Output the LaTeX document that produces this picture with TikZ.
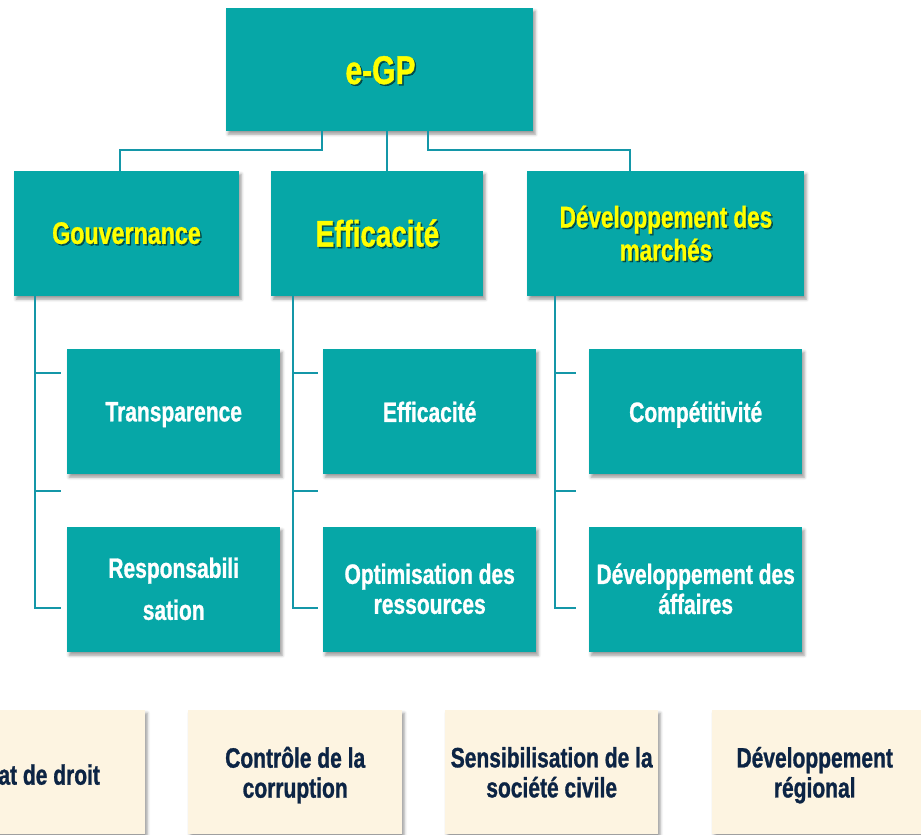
\documentclass[tikz,border=0pt]{standalone}
\usepackage{fontspec}
\newfontfamily\cf{Liberation Sans}[FakeStretch=0.75, BoldFeatures={FakeBold=1}]
\usetikzlibrary{shadows.blur}
\definecolor{teal1}{HTML}{06A7A7}
\definecolor{conncol}{HTML}{1497A8}
\definecolor{cream}{HTML}{FDF4E1}
\definecolor{navy}{HTML}{0C2444}
\definecolor{ylw}{HTML}{FFFF00}
\begin{document}
\begin{tikzpicture}[x=1pt,y=-1pt,
  basebox/.style={rectangle, draw=none, inner sep=0pt, anchor=north west,
    blur shadow={shadow xshift=2pt, shadow yshift=-3pt, shadow blur radius=3pt, shadow opacity=40}},
  tealbox/.style={basebox, fill=teal1},
  creambox/.style={basebox, fill=cream},
  conn/.style={draw=conncol, line width=2.8pt},
  ytxt/.style={font=\cf\bfseries, text=ylw, align=center, text depth=0pt, inner sep=0pt},
  ysh/.style={font=\cf\bfseries, text=black, opacity=0.5, align=center, text depth=0pt, inner sep=0pt},
  wtxt/.style={font=\cf\bfseries\fontsize{28}{30}\selectfont, text=white, align=center, text depth=0pt, inner sep=0pt},
  ntxt/.style={font=\cf\bfseries\fontsize{28}{30}\selectfont, text=navy, align=center, text depth=0pt, inner sep=0pt}
]
\useasboundingbox (0,0) rectangle (921,835);
\clip (0,0) rectangle (921,835);

% connector anchor coordinates
\coordinate (a1) at (322,150);
\coordinate (a2) at (120,150);
\coordinate (b1) at (387,150);
\coordinate (c1) at (428,150);
\coordinate (c2) at (630,150);
\coordinate (g1) at (35,608);
\coordinate (g2) at (61,373);
\coordinate (g3) at (61,491);
\coordinate (g4) at (61,608);
\coordinate (e1) at (293,608);
\coordinate (e2) at (318,373);
\coordinate (e3) at (318,491);
\coordinate (e4) at (318,608);
\coordinate (d1) at (555,608);
\coordinate (d2) at (576,373);
\coordinate (d3) at (576,491);
\coordinate (d4) at (576,608);

% boxes
\node[tealbox, minimum width=307pt, minimum height=123pt] (egp) at (226,8) {};
\node[tealbox, minimum width=225pt, minimum height=125pt] (gouv) at (14,171) {};
\node[tealbox, minimum width=212pt, minimum height=125pt] (eff) at (271,171) {};
\node[tealbox, minimum width=277pt, minimum height=125pt] (dev) at (527,171) {};

\node[tealbox, minimum width=213pt, minimum height=125pt] (tra) at (67,349) {};
\node[tealbox, minimum width=213pt, minimum height=125pt] (res) at (67,527) {};
\node[tealbox, minimum width=213pt, minimum height=125pt] (eff2) at (323,349) {};
\node[tealbox, minimum width=213pt, minimum height=125pt] (opt) at (323,527) {};
\node[tealbox, minimum width=213pt, minimum height=125pt] (comp) at (589,349) {};
\node[tealbox, minimum width=213pt, minimum height=125pt] (daff) at (589,527) {};

\node[creambox, minimum width=213pt, minimum height=124pt] (etat) at (-68,710) {};
\node[creambox, minimum width=214pt, minimum height=124pt] (corr) at (188,710) {};
\node[creambox, minimum width=213pt, minimum height=124pt] (soc) at (445,710) {};
\node[creambox, minimum width=213pt, minimum height=124pt] (reg) at (712,710) {};

% connectors
\draw[conn] (egp.south -| a1) -- (a1) -- (a2) -- (a2 |- gouv.north);
\draw[conn] (egp.south -| b1) -- (b1 |- eff.north);
\draw[conn] (egp.south -| c1) -- (c1) -- (c2) -- (c2 |- dev.north);

\draw[conn] (gouv.south -| g1) -- (g1) -- (g4);
\draw[conn] (g1 |- g2) -- (g2);
\draw[conn] (g1 |- g3) -- (g3);
\draw[conn] (eff.south -| e1) -- (e1) -- (e4);
\draw[conn] (e1 |- e2) -- (e2);
\draw[conn] (e1 |- e3) -- (e3);
\draw[conn] (dev.south -| d1) -- (d1) -- (d4);
\draw[conn] (d1 |- d2) -- (d2);
\draw[conn] (d1 |- d3) -- (d3);

% yellow titles with shadow
\node[ysh, font=\cf\bfseries\fontsize{40}{44}\selectfont] (egpS) at (382,71.5) {e-GP};
\node[ytxt, font=\cf\bfseries\fontsize{40}{44}\selectfont] (egpT) at (380.5,70) {e-GP};
\node[ysh, font=\cf\bfseries\fontsize{31}{33}\selectfont] (gouvS) at (128,234.5) {Gouvernance};
\node[ytxt, font=\cf\bfseries\fontsize{31}{33}\selectfont] (gouvT) at (126.5,233) {Gouvernance};
\node[ysh, font=\cf\bfseries\fontsize{37}{39}\selectfont] (effS) at (379,234.5) {Efficacité};
\node[ytxt, font=\cf\bfseries\fontsize{37}{39}\selectfont] (effT) at (377.5,233) {Efficacité};
\node[ysh, font=\cf\bfseries\fontsize{30}{33}\selectfont] (devS) at (667.5,234.5) {Développement des\\marchés};
\node[ytxt, font=\cf\bfseries\fontsize{30}{33}\selectfont] (devT) at (666,233) {Développement des\\marchés};

% white texts
\node[wtxt] (traT) at (tra.center) {Transparence};
\node[wtxt] (resT) at ([yshift=1pt]res.center) {Responsabili\\[12pt]sation};
\node[wtxt] (eff2T) at (eff2.center) {Efficacité};
\node[wtxt] (optT) at ([yshift=1pt]opt.center) {Optimisation des\\ressources};
\node[wtxt] (compT) at (comp.center) {Compétitivité};
\node[wtxt] (daffT) at ([yshift=1pt]daff.center) {Développement des\\áffaires};

% navy texts
\node[ntxt] (etatT) at (etat.center) {État de droit};
\node[ntxt] (corrT) at (corr.center) {Contrôle de la\\corruption};
\node[ntxt] (socT) at (soc.center) {Sensibilisation de la\\société civile};
\node[ntxt] (regT) at ([xshift=-4pt]reg.center) {Développement\\régional};
\end{tikzpicture}
\end{document}
